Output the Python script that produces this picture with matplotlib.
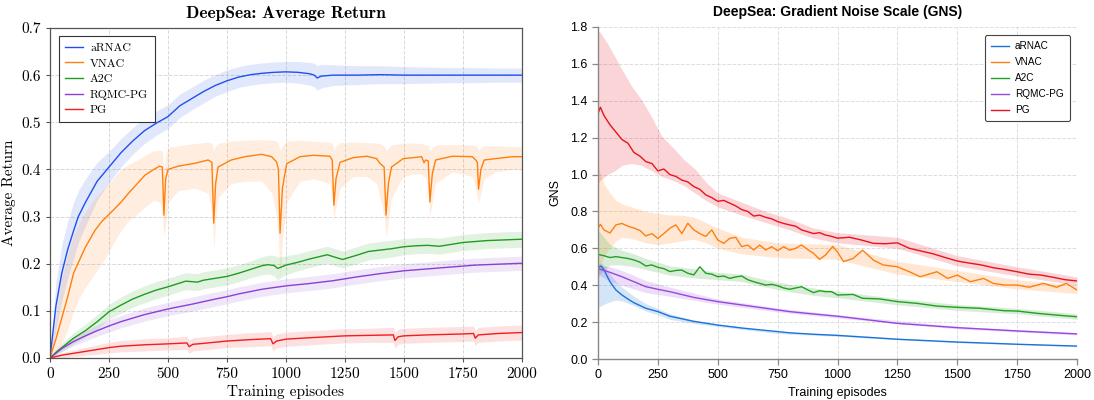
import matplotlib
matplotlib.use("Agg")
import matplotlib.pyplot as plt

# ---------------- left panel: average return ----------------
arnac_x = [0, 25, 50, 75, 100, 120, 150, 200, 250, 300, 350, 400, 450, 500, 550, 600, 650, 700, 750,
           800, 850, 900, 950, 1000, 1050, 1100, 1120, 1132, 1150, 1200, 1300, 1400, 1500, 1600, 1700,
           1800, 1900, 2000]
arnac_y = [0.0, 0.11, 0.18, 0.23, 0.27, 0.30, 0.33, 0.375, 0.405, 0.435, 0.46, 0.482, 0.498, 0.512,
           0.535, 0.55, 0.565, 0.578, 0.588, 0.596, 0.601, 0.604, 0.606, 0.607, 0.606, 0.603, 0.60,
           0.594, 0.598, 0.600, 0.600, 0.601, 0.600, 0.600, 0.600, 0.600, 0.600, 0.600]
arnac_err = [0.0, 0.05, 0.06, 0.06, 0.06, 0.055, 0.05, 0.04, 0.033, 0.03, 0.028, 0.027, 0.026, 0.025,
             0.025, 0.024, 0.024, 0.023, 0.023, 0.022, 0.022, 0.022, 0.022, 0.022, 0.023, 0.024, 0.025,
             0.026, 0.025, 0.022, 0.02, 0.019, 0.018, 0.017, 0.016, 0.016, 0.015, 0.015]

vnac_x = [0, 25, 50, 75, 100, 127, 150, 191, 220, 261, 300, 332, 370, 403, 440, 465, 476, 483, 490,
          500, 544, 614, 670, 686, 694, 702, 712, 768, 826, 897, 939, 960, 968, 975, 985, 1003, 1059,
          1116, 1186, 1196, 1203, 1212, 1229, 1285, 1342, 1384, 1398, 1416, 1424, 1434, 1447, 1497,
          1540, 1575, 1585, 1592, 1603, 1610, 1620, 1634, 1705, 1790, 1804, 1811, 1816, 1826, 1840,
          1889, 1960, 2000]
vnac_y = [0.0, 0.04, 0.085, 0.13, 0.18, 0.21, 0.235, 0.271, 0.29, 0.31, 0.33, 0.349, 0.37, 0.388, 0.40,
          0.407, 0.405, 0.303, 0.38, 0.40, 0.407, 0.413, 0.42, 0.415, 0.286, 0.37, 0.405, 0.42, 0.427,
          0.432, 0.427, 0.416, 0.40, 0.265, 0.36, 0.412, 0.427, 0.43, 0.428, 0.42, 0.324, 0.38, 0.415,
          0.425, 0.428, 0.423, 0.413, 0.405, 0.303, 0.37, 0.405, 0.423, 0.425, 0.427, 0.414, 0.42,
          0.418, 0.331, 0.39, 0.42, 0.428, 0.427, 0.42, 0.415, 0.358, 0.40, 0.42, 0.423, 0.427, 0.427]
vnac_lo = [0.0, 0.01, 0.03, 0.06, 0.10, 0.13, 0.15, 0.18, 0.20, 0.236, 0.27, 0.29, 0.305, 0.32, 0.335,
           0.33, 0.30, 0.257, 0.28, 0.33, 0.355, 0.36, 0.35, 0.31, 0.233, 0.29, 0.34, 0.37, 0.375,
           0.375, 0.35, 0.30, 0.25, 0.17, 0.25, 0.33, 0.375, 0.38, 0.37, 0.34, 0.293, 0.32, 0.36, 0.385,
           0.385, 0.37, 0.34, 0.30, 0.257, 0.29, 0.34, 0.385, 0.39, 0.39, 0.385, 0.385, 0.35, 0.30,
           0.33, 0.37, 0.395, 0.385, 0.36, 0.34, 0.328, 0.35, 0.38, 0.395, 0.40, 0.40]
vnac_hi = [0.0, 0.09, 0.17, 0.22, 0.26, 0.29, 0.31, 0.34, 0.355, 0.377, 0.40, 0.41, 0.42, 0.43, 0.44,
           0.44, 0.44, 0.40, 0.43, 0.447, 0.45, 0.455, 0.458, 0.455, 0.44, 0.45, 0.455, 0.46, 0.462,
           0.463, 0.462, 0.46, 0.455, 0.44, 0.45, 0.46, 0.462, 0.46, 0.458, 0.455, 0.44, 0.45, 0.457,
           0.458, 0.457, 0.456, 0.455, 0.45, 0.44, 0.445, 0.452, 0.456, 0.456, 0.455, 0.453, 0.453,
           0.452, 0.44, 0.447, 0.452, 0.453, 0.452, 0.45, 0.448, 0.44, 0.446, 0.45, 0.45, 0.449, 0.448]

a2c_x = [0, 25, 50, 100, 150, 200, 250, 300, 350, 400, 450, 500, 550, 575, 600, 625, 650, 700, 750,
         800, 850, 900, 925, 950, 965, 1000, 1050, 1100, 1150, 1175, 1200, 1240, 1300, 1350, 1400,
         1450, 1500, 1550, 1600, 1650, 1700, 1750, 1800, 1850, 1900, 1950, 2000]
a2c_y = [0.0, 0.012, 0.022, 0.042, 0.058, 0.077, 0.098, 0.112, 0.125, 0.135, 0.144, 0.151, 0.159,
         0.163, 0.162, 0.161, 0.165, 0.169, 0.173, 0.18, 0.188, 0.196, 0.198, 0.196, 0.19, 0.197,
         0.203, 0.21, 0.216, 0.219, 0.215, 0.209, 0.218, 0.226, 0.229, 0.232, 0.236, 0.238, 0.239,
         0.237, 0.241, 0.245, 0.247, 0.249, 0.25, 0.251, 0.252]
a2c_err = [0.0, 0.006, 0.009, 0.012, 0.014, 0.015, 0.016, 0.017, 0.017, 0.018, 0.018, 0.018, 0.018,
           0.018, 0.018, 0.018, 0.018, 0.018, 0.018, 0.018, 0.018, 0.019, 0.02, 0.022, 0.024, 0.02,
           0.018, 0.018, 0.018, 0.018, 0.018, 0.018, 0.018, 0.018, 0.018, 0.018, 0.017, 0.017, 0.017,
           0.017, 0.017, 0.017, 0.017, 0.017, 0.017, 0.017, 0.017]

rqmc_x = [0, 50, 100, 150, 200, 250, 300, 400, 500, 600, 700, 750, 800, 900, 1000, 1100, 1200, 1250,
          1300, 1400, 1500, 1600, 1700, 1750, 1800, 1900, 2000]
rqmc_y = [0.0, 0.02, 0.035, 0.047, 0.058, 0.068, 0.077, 0.092, 0.104, 0.114, 0.125, 0.13, 0.136,
          0.146, 0.153, 0.158, 0.164, 0.168, 0.172, 0.179, 0.185, 0.189, 0.193, 0.195, 0.197, 0.199,
          0.201]
rqmc_err = [0.0, 0.006, 0.009, 0.011, 0.012, 0.013, 0.013, 0.014, 0.014, 0.015, 0.015, 0.015, 0.015,
            0.015, 0.015, 0.015, 0.015, 0.015, 0.015, 0.015, 0.015, 0.015, 0.015, 0.015, 0.015, 0.015,
            0.015]

pg_x = [0, 50, 100, 200, 250, 300, 400, 500, 580, 590, 605, 650, 750, 850, 935, 945, 960, 1000, 1100,
        1250, 1350, 1455, 1462, 1475, 1500, 1600, 1750, 1795, 1802, 1815, 1900, 2000]
pg_y = [0.0, 0.006, 0.01, 0.018, 0.022, 0.025, 0.028, 0.03, 0.032, 0.024, 0.029, 0.031, 0.036, 0.039,
        0.041, 0.03, 0.036, 0.04, 0.043, 0.047, 0.048, 0.049, 0.037, 0.045, 0.047, 0.049, 0.051,
        0.052, 0.042, 0.049, 0.052, 0.054]
pg_err = [0.0, 0.005, 0.007, 0.01, 0.011, 0.012, 0.013, 0.013, 0.014, 0.014, 0.014, 0.014, 0.014,
          0.015, 0.015, 0.015, 0.015, 0.015, 0.015, 0.015, 0.015, 0.016, 0.016, 0.016, 0.016, 0.016,
          0.016, 0.016, 0.016, 0.016, 0.016, 0.016]

# ---------------- right panel: gradient noise scale ----------------
g_arnac_x = [0, 13, 25, 50, 75, 100, 125, 150, 200, 250, 300, 350, 400, 500, 600, 700, 800, 900,
             1000, 1250, 1500, 1750, 2000]
g_arnac_y = [0.497, 0.504, 0.483, 0.419, 0.374, 0.347, 0.325, 0.305, 0.275, 0.257, 0.232, 0.218,
             0.204, 0.184, 0.168, 0.155, 0.142, 0.134, 0.128, 0.107, 0.092, 0.08, 0.07]
g_arnac_bx = [0, 15, 30, 50, 75, 100, 150, 200, 250, 300, 400, 500, 750, 1000, 1500, 2000]
g_arnac_hi = [0.52, 0.52, 0.50, 0.46, 0.42, 0.39, 0.34, 0.30, 0.275, 0.245, 0.212, 0.19, 0.147,
              0.135, 0.094, 0.073]
g_arnac_lo = [0.28, 0.29, 0.30, 0.31, 0.32, 0.315, 0.29, 0.26, 0.24, 0.215, 0.193, 0.176, 0.138,
              0.123, 0.088, 0.067]

g_vnac_x = [0, 10, 25, 50, 75, 100, 125, 150, 175, 200, 225, 250, 275, 300, 325, 350, 375, 400, 425,
            450, 475, 500, 525, 550, 575, 600, 625, 650, 675, 700, 725, 750, 775, 800, 825, 850, 875,
            900, 925, 950, 980, 1000, 1025, 1065, 1105, 1150, 1190, 1250, 1300, 1345, 1415, 1460,
            1500, 1555, 1610, 1650, 1695, 1750, 1800, 1860, 1915, 1955, 2000]
g_vnac_y = [0.709, 0.73, 0.70, 0.683, 0.727, 0.735, 0.72, 0.71, 0.697, 0.667, 0.68, 0.654, 0.68,
            0.709, 0.727, 0.68, 0.736, 0.70, 0.68, 0.665, 0.70, 0.645, 0.627, 0.654, 0.66, 0.609,
            0.618, 0.591, 0.618, 0.591, 0.609, 0.587, 0.609, 0.59, 0.60, 0.618, 0.594, 0.573, 0.54,
            0.564, 0.61, 0.58, 0.528, 0.545, 0.59, 0.536, 0.51, 0.50, 0.473, 0.446, 0.473, 0.437,
            0.455, 0.419, 0.437, 0.41, 0.401, 0.401, 0.389, 0.41, 0.389, 0.41, 0.374]
g_vnac_bx = [0, 10, 25, 50, 75, 100, 150, 200, 250, 300, 350, 400, 450, 500, 600, 750, 1000, 1250,
             1500, 1750, 2000]
g_vnac_hi = [1.05, 1.0, 0.95, 0.9, 0.86, 0.84, 0.82, 0.80, 0.79, 0.78, 0.78, 0.77, 0.74, 0.71, 0.66,
             0.63, 0.62, 0.53, 0.48, 0.43, 0.40]
g_vnac_lo = [0.42, 0.5, 0.56, 0.60, 0.64, 0.66, 0.65, 0.63, 0.62, 0.63, 0.64, 0.65, 0.63, 0.60, 0.57,
             0.55, 0.54, 0.46, 0.42, 0.38, 0.355]

g_a2c_x = [0, 25, 50, 75, 100, 125, 150, 175, 200, 225, 250, 275, 300, 325, 350, 375, 400, 425, 450,
           475, 500, 525, 550, 575, 600, 625, 650, 675, 700, 725, 750, 775, 800, 825, 850, 875, 900,
           925, 950, 975, 1000, 1065, 1105, 1175, 1250, 1330, 1415, 1500, 1595, 1695, 1750, 1830,
           1915, 2000]
g_a2c_y = [0.567, 0.56, 0.55, 0.555, 0.55, 0.545, 0.537, 0.525, 0.504, 0.51, 0.497, 0.49, 0.474,
           0.48, 0.482, 0.465, 0.456, 0.50, 0.465, 0.46, 0.446, 0.45, 0.437, 0.445, 0.45, 0.43, 0.419,
           0.41, 0.401, 0.405, 0.397, 0.385, 0.378, 0.385, 0.392, 0.375, 0.36, 0.37, 0.365, 0.365,
           0.347, 0.35, 0.329, 0.326, 0.311, 0.302, 0.287, 0.28, 0.275, 0.262, 0.26, 0.248, 0.238,
           0.229]
g_a2c_bx = [0, 25, 50, 100, 150, 200, 300, 400, 500, 600, 700, 800, 900, 1000, 1250, 1500, 1750, 2000]
g_a2c_hi = [0.70, 0.66, 0.62, 0.59, 0.57, 0.545, 0.505, 0.49, 0.47, 0.46, 0.43, 0.405, 0.385, 0.368,
            0.328, 0.296, 0.275, 0.245]
g_a2c_lo = [0.45, 0.48, 0.51, 0.51, 0.50, 0.485, 0.455, 0.44, 0.43, 0.42, 0.39, 0.365, 0.345, 0.332,
            0.294, 0.264, 0.245, 0.215]

g_rqmc_x = [0, 50, 100, 150, 200, 250, 300, 400, 500, 600, 700, 750, 800, 900, 1000, 1250, 1500,
            1750, 2000]
g_rqmc_y = [0.49, 0.47, 0.446, 0.419, 0.392, 0.378, 0.365, 0.334, 0.311, 0.293, 0.275, 0.266, 0.257,
            0.244, 0.232, 0.193, 0.17, 0.152, 0.136]
g_rqmc_bx = [0, 50, 100, 200, 300, 500, 750, 1000, 1500, 2000]
g_rqmc_hi = [0.51, 0.50, 0.48, 0.425, 0.39, 0.325, 0.277, 0.24, 0.177, 0.142]
g_rqmc_lo = [0.46, 0.42, 0.40, 0.36, 0.34, 0.297, 0.255, 0.222, 0.163, 0.13]

g_pg_x = [0, 10, 25, 50, 75, 100, 125, 150, 175, 200, 225, 250, 275, 300, 325, 350, 375, 400, 425,
          450, 475, 500, 525, 550, 575, 600, 625, 650, 675, 700, 725, 750, 775, 800, 825, 850, 875,
          900, 925, 950, 975, 1000, 1050, 1100, 1150, 1200, 1250, 1300, 1350, 1400, 1450, 1500, 1550,
          1600, 1650, 1700, 1750, 1800, 1850, 1900, 1950, 2000]
g_pg_y = [1.33, 1.365, 1.32, 1.27, 1.23, 1.19, 1.17, 1.12, 1.10, 1.07, 1.06, 1.02, 1.03, 1.00, 0.99,
          0.97, 0.96, 0.935, 0.92, 0.89, 0.875, 0.855, 0.86, 0.845, 0.83, 0.81, 0.80, 0.775, 0.78,
          0.768, 0.76, 0.745, 0.735, 0.727, 0.72, 0.70, 0.69, 0.68, 0.685, 0.672, 0.665, 0.655, 0.66,
          0.645, 0.627, 0.625, 0.63, 0.60, 0.585, 0.57, 0.55, 0.531, 0.52, 0.51, 0.495, 0.485, 0.473,
          0.46, 0.455, 0.443, 0.43, 0.423]
g_pg_bx = [0, 10, 40, 70, 100, 140, 180, 225, 265, 310, 360, 405, 450, 500, 600, 700, 800, 900, 1000,
           1250, 1500, 1750, 2000]
g_pg_hi = [1.78, 1.77, 1.71, 1.64, 1.57, 1.48, 1.41, 1.31, 1.21, 1.15, 1.08, 1.03, 0.96, 0.90, 0.85,
           0.80, 0.76, 0.71, 0.685, 0.66, 0.56, 0.50, 0.445]
g_pg_lo = [0.95, 0.97, 1.0, 1.02, 1.05, 1.06, 1.05, 1.02, 0.99, 0.97, 0.94, 0.90, 0.86, 0.825, 0.78,
           0.74, 0.70, 0.655, 0.63, 0.60, 0.505, 0.45, 0.40]

labels = ["aRNAC", "VNAC", "A2C", "RQMC-PG", "PG"]
left_colors = ["#1f4fef", "#ff7f0e", "#1e9e1e", "#8b3fd6", "#f21d1d"]
right_colors = ["#1a73d9", "#ff7f0e", "#22a022", "#9945e0", "#e8141c"]

fig = plt.figure(figsize=(10.94, 4.0), dpi=100)

# ---- left ----
serif = "cmr10"
ax1 = fig.add_axes([0.0457, 0.105, 0.4314, 0.825])
left_series = [
    (arnac_x, arnac_y, [m - e for m, e in zip(arnac_y, arnac_err)], [m + e for m, e in zip(arnac_y, arnac_err)]),
    (vnac_x, vnac_y, vnac_lo, vnac_hi),
    (a2c_x, a2c_y, [m - e for m, e in zip(a2c_y, a2c_err)], [m + e for m, e in zip(a2c_y, a2c_err)]),
    (rqmc_x, rqmc_y, [m - e for m, e in zip(rqmc_y, rqmc_err)], [m + e for m, e in zip(rqmc_y, rqmc_err)]),
    (pg_x, pg_y, [max(m - e, 0) for m, e in zip(pg_y, pg_err)], [m + e for m, e in zip(pg_y, pg_err)]),
]
for (x, y, lo, hi), c, lab in zip(left_series, left_colors, labels):
    ax1.fill_between(x, lo, hi, color=c, alpha=0.13, linewidth=0)
    ax1.plot(x, y, color=c, linewidth=1.0, label=lab)

ax1.set_xlim(0, 2000)
ax1.set_ylim(0, 0.7)
ax1.set_xticks([0, 250, 500, 750, 1000, 1250, 1500, 1750, 2000])
ax1.set_yticks([0.0, 0.1, 0.2, 0.3, 0.4, 0.5, 0.6, 0.7])
ax1.set_yticklabels(["0.0", "0.1", "0.2", "0.3", "0.4", "0.5", "0.6", "0.7"])
ax1.grid(True, linestyle="--", color="#d8d8d8", linewidth=0.7)
ax1.set_axisbelow(True)
for s in ax1.spines.values():
    s.set_color("#555555")
    s.set_linewidth(0.9)
ax1.tick_params(colors="#555555", labelcolor="black", length=3, width=0.8)
for t in ax1.get_xticklabels() + ax1.get_yticklabels():
    t.set_fontfamily(serif)
    t.set_fontsize(11)
ax1.set_xlabel("Training episodes", fontfamily=serif, fontsize=11, labelpad=3)
ax1.set_ylabel("Average Return", fontfamily=serif, fontsize=11, labelpad=4)
ax1.set_title("DeepSea: Average Return", fontfamily="cmb10", fontsize=12.5, pad=7)
leg1 = ax1.legend(loc="upper left", prop={"family": serif, "size": 8.5}, fancybox=False,
                  edgecolor="#333333", framealpha=1, handlelength=1.5, borderpad=0.55,
                  labelspacing=0.45, handletextpad=0.6, bbox_to_anchor=(0.006, 0.993))
leg1.get_frame().set_linewidth(0.8)

# ---- right ----
sans = "Liberation Sans"
ax2 = fig.add_axes([0.5466, 0.1025, 0.4379, 0.83])
right_series = [
    (g_arnac_x, g_arnac_y, g_arnac_bx, g_arnac_lo, g_arnac_hi),
    (g_vnac_x, g_vnac_y, g_vnac_bx, g_vnac_lo, g_vnac_hi),
    (g_a2c_x, g_a2c_y, g_a2c_bx, g_a2c_lo, g_a2c_hi),
    (g_rqmc_x, g_rqmc_y, g_rqmc_bx, g_rqmc_lo, g_rqmc_hi),
    (g_pg_x, g_pg_y, g_pg_bx, g_pg_lo, g_pg_hi),
]
for (x, y, bx, lo, hi), c, lab in zip(right_series, right_colors, labels):
    ax2.fill_between(bx, lo, hi, color=c, alpha=0.18, linewidth=0)
    ax2.plot(x, y, color=c, linewidth=1.0, label=lab)

ax2.set_xlim(0, 2000)
ax2.set_ylim(0, 1.8)
ax2.set_xticks([0, 250, 500, 750, 1000, 1250, 1500, 1750, 2000])
ax2.set_yticks([0.0, 0.2, 0.4, 0.6, 0.8, 1.0, 1.2, 1.4, 1.6, 1.8])
ax2.set_yticklabels(["0.0", "0.2", "0.4", "0.6", "0.8", "1.0", "1.2", "1.4", "1.6", "1.8"])
ax2.grid(True, linestyle="--", color="#dddddd", linewidth=0.7)
ax2.set_axisbelow(True)
ax2.spines["top"].set_visible(False)
ax2.spines["right"].set_visible(False)
for side in ["left", "bottom"]:
    ax2.spines[side].set_color("#888888")
    ax2.spines[side].set_linewidth(1.0)
ax2.tick_params(colors="#888888", labelcolor="black", length=4, width=0.9)
for t in ax2.get_xticklabels() + ax2.get_yticklabels():
    t.set_fontfamily(sans)
    t.set_fontsize(9)
ax2.set_xlabel("Training episodes", fontfamily=sans, fontsize=9, labelpad=4)
ax2.set_ylabel("GNS", fontfamily=sans, fontsize=9, labelpad=6)
ax2.set_title("DeepSea: Gradient Noise Scale (GNS)", fontfamily=sans, fontweight="bold",
              fontsize=10, pad=8)
leg2 = ax2.legend(loc="upper right", prop={"family": sans, "size": 7.2}, fancybox=True,
                  edgecolor="#444444", framealpha=1, handlelength=1.8, borderpad=0.6,
                  labelspacing=0.6, handletextpad=0.6, bbox_to_anchor=(0.995, 0.99))
leg2.get_frame().set_linewidth(0.8)

fig.savefig("out.png", dpi=100)
